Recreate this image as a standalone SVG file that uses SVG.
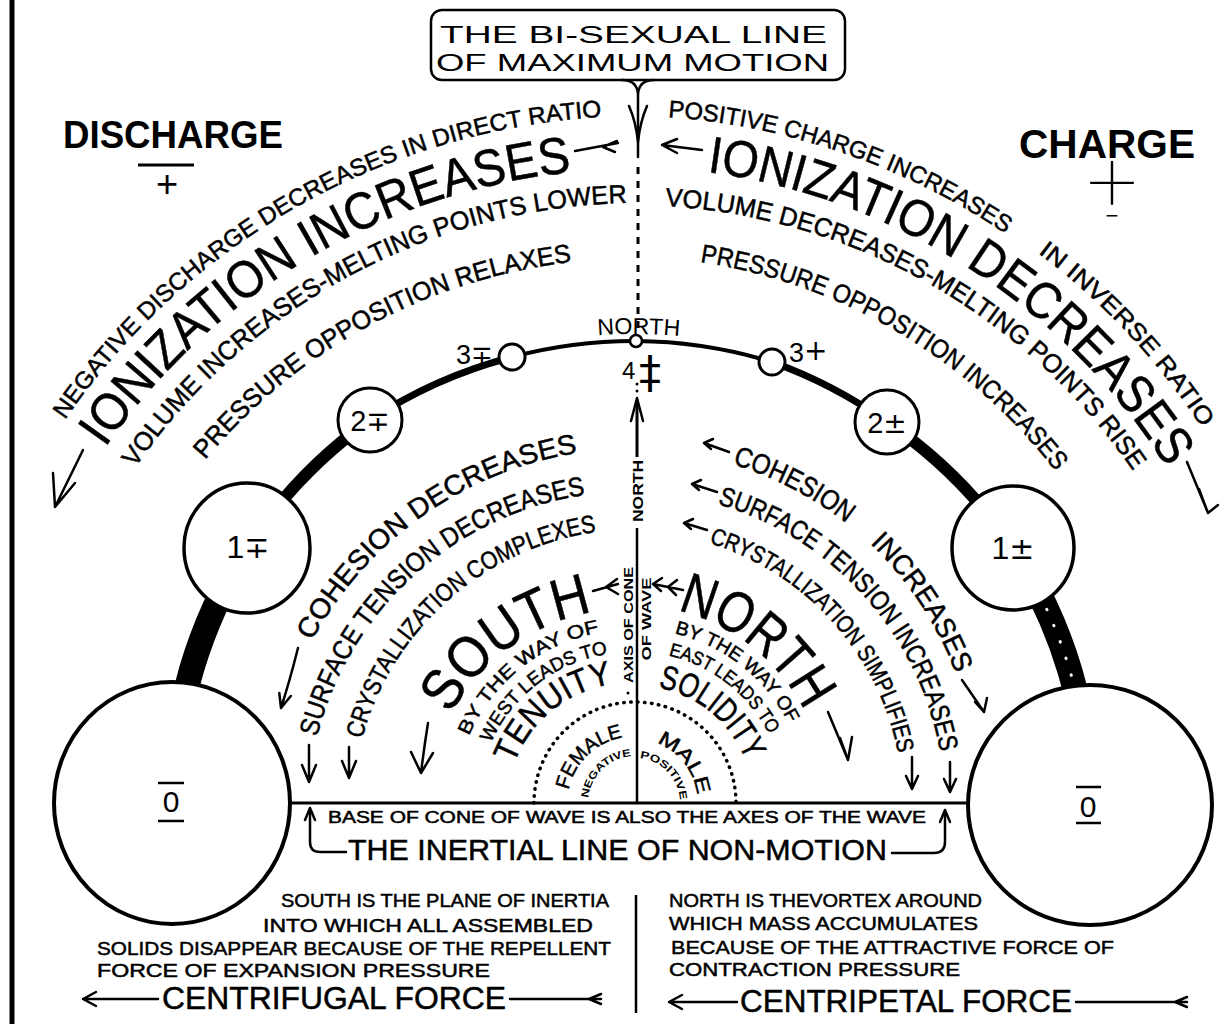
<svg xmlns="http://www.w3.org/2000/svg" width="1231" height="1024" viewBox="0 0 1231 1024">
<defs>
<style>
text{font-family:"Liberation Sans",Arial,sans-serif;fill:#000}
.b{font-weight:bold}
.sym{font-family:"DejaVu Sans","Liberation Sans",sans-serif}
.thin{font-family:Inter,"DejaVu Sans",sans-serif;font-weight:100}
.ln{fill:none;stroke:#000;stroke-width:2.5;stroke-linecap:round;stroke-linejoin:round}
.arc{fill:none;stroke:#000;stroke-linecap:butt}
.node{fill:#fff;stroke:#000}
.hv{stroke:#000;stroke-width:0.5}
</style>
<path id="p1" d="M65,420 A700,700 0 0 1 602,117"/>
<path id="p2" d="M105,448 A650,650 0 0 1 572,172"/>
<path id="p3" d="M135,468 A614,614 0 0 1 627,203"/>
<path id="p4" d="M205,460 A561,561 0 0 1 572,262"/>
<path id="p5" d="M668,117 A699,699 0 0 1 1006,234"/>
<path id="p6" d="M1038,253 A692,692 0 0 1 1202,428"/>
<path id="p7" d="M707,172 A645,645 0 0 1 1167,468"/>
<path id="p8" d="M665,206 A611,611 0 0 1 1133,471"/>
<path id="p9" d="M700,262 A554,554 0 0 1 1056,472"/>
<path id="p10" d="M312,641 A367,367 0 0 1 577,453"/>
<path id="p11" d="M317,737 A325,325 0 0 1 585,495"/>
<path id="p12" d="M362,739 A284,284 0 0 1 596.5,532"/>
<path id="p13a" d="M732.5,464 A362,362 0 0 1 846,523"/>
<path id="p13b" d="M870,543.5 A355,355 0 0 1 956,674"/>
<path id="p14" d="M717.5,504 A316,316 0 0 1 940,752"/>
<path id="p15" d="M709,543 A276,276 0 0 1 898,753"/>
<path id="p16" d="M450.6,714.6 A200,200 0 0 1 592.7,612.4"/>
<path id="p17" d="M469,736 A176,176 0 0 1 599.5,632.6"/>
<path id="p18" d="M491,743 A153,153 0 0 1 608.4,654"/>
<path id="p19" d="M514,764 A124,124 0 0 1 613,684"/>
<path id="p20" d="M568.5,790 A67,67 0 0 1 623,737.6"/>
<path id="p21" d="M588.3,798.1 A47,47 0 0 1 631.7,756.1"/>
<path id="p22" d="M656.5,743 A63,63 0 0 1 697,794.5"/>
<path id="p23" d="M639.7,758.2 A45,45 0 0 1 679.9,800.6"/>
<path id="p24" d="M677.4,610.4 A195,195 0 0 1 804.5,711"/>
<path id="p25" d="M674.4,633.5 A173.5,173.5 0 0 1 788.8,723.6"/>
<path id="p26" d="M668.4,655.5 A151,151 0 0 1 769.3,734.8"/>
<path id="p27" d="M658,687.6 A118,118 0 0 1 745.6,760.5"/>
<path id="pN" d="M597.7,335.4 A486,486 0 0 1 679.9,336.1"/>
</defs>

<rect x="0" y="0" width="1231" height="1024" fill="#fff"/>
<line x1="12" y1="0" x2="12" y2="1024" stroke="#000" stroke-width="5"/>

<!-- title box -->
<g id="title-box">
<rect x="431" y="10" width="414" height="70" rx="11" fill="#fff" stroke="#000" stroke-width="2.5"/>
<text x="440" y="43" font-size="24" textLength="387" lengthAdjust="spacingAndGlyphs">THE BI-SEXUAL LINE</text>
<text x="436" y="71" font-size="24" textLength="393" lengthAdjust="spacingAndGlyphs">OF MAXIMUM MOTION</text>
</g>

<!-- connectors -->
<g id="connectors">
<path class="ln" d="M622,80 Q638,80 638,96 M654,80 Q638,80 638,96 L638,157"/>
<path class="ln" d="M629,106 Q636,122 638,142 Q640,122 647,106"/>
<line x1="638" y1="167" x2="638" y2="336" stroke="#000" stroke-width="3" stroke-dasharray="7 7"/>

<path class="arc" stroke-width="25" d="M172,803 A476,476 0 0 1 247,548"/>
<path class="arc" stroke-width="12" d="M247,548 A476,476 0 0 1 370,420"/>
<path class="arc" stroke-width="7" d="M370,420 A476,476 0 0 1 512,357"/>
<path class="arc" stroke-width="4" d="M512,357 A476,476 0 0 1 636,341"/>
<path class="arc" stroke-width="4" d="M636,341 A476,476 0 0 1 772,362"/>
<path class="arc" stroke-width="7" d="M772,362 A476,476 0 0 1 887,422"/>
<path class="arc" stroke-width="12" d="M887,422 A476,476 0 0 1 1013,548"/>
<path class="arc" stroke-width="25" d="M1013,548 A476,476 0 0 1 1090,805"/>
<path d="M1013,548 A476,476 0 0 1 1090,805" fill="none" stroke="#fff" stroke-width="3" stroke-linecap="round" stroke-dasharray="0.5 17"/>

<line x1="290" y1="803" x2="968" y2="803" stroke="#000" stroke-width="3"/>

<!-- outer arc arrows -->
<path class="ln" d="M575,151 L618,143 M603,147 L617,141 M603,147 L615,152"/>
<path class="ln" d="M83,450 L55,507 M53,473 L55,507 L75,483"/>
<path class="ln" d="M702,150 L662,145 M677,139 L662,145 L677,153"/>
<path class="ln" d="M1187,462 L1208,513 M1199,489 L1208,513 L1218,505"/>

<!-- inner left arrows -->
<path class="ln" d="M298,648 Q290,680 281,708 M290.8,696 L281,708 L279.3,693"/>
<path class="ln" d="M309,745 L309,782 M302,765 L309,782 L316,765"/>
<path class="ln" d="M349,747 L349,778 M342,761 L349,778 L356,761"/>
<!-- inner right arrows -->
<path class="ln" d="M729,452 L704,443 M713,439 L704,443 L711,449"/>
<path class="ln" d="M717,492 L692,484 M701,480 L692,484 L699,490"/>
<path class="ln" d="M707,530 L684,523 M693,519 L684,523 L691,529"/>
<path class="ln" d="M962,680 L984,712 M975,702 L984,712 L987,698"/>
<path class="ln" d="M950,762 L950,792 M944,779 L950,792 L956,779"/>
<path class="ln" d="M912,757 L912,789 M906,776 L912,789 L918,776"/>

<!-- centre arrows -->
<path class="ln" d="M593,591 L618,584 M606,587 L617,579 M606,587 L618,594"/>
<path class="ln" d="M653,584 L683,590 M653,584 L662,578 M653,584 L661,591 M668,587 L677,580 M668,587 L676,595"/>
<path class="ln" d="M428,723 Q424,748 421,773 M411,752 L421,773 L433,753"/>
<path class="ln" d="M828,712 L848,760 M840,738 L848,760 L852,737"/>

<!-- axis -->
<line x1="637" y1="803" x2="637" y2="528" stroke="#000" stroke-width="2.5"/>
<line x1="637" y1="457" x2="637" y2="400" stroke="#000" stroke-width="3"/>
<path class="ln" d="M631,421 L637,398 L643,421"/>
<circle cx="637" cy="384" r="1.5"/>
<circle cx="637" cy="391" r="1.5"/>
<circle cx="628" cy="693" r="1.5"/>

<!-- dotted semicircle -->
<path d="M534,803 A101,101 0 0 1 736,803" fill="none" stroke="#000" stroke-width="3.5" stroke-dasharray="0.5 6.5" stroke-linecap="round"/>

<!-- base arrows -->
<path class="ln" d="M310,812 V842 Q310,852 320,852 H346"/>
<path class="ln" d="M305,820 L310,808 L315,820"/>
<path class="ln" d="M892,853 H934 Q945,853 945,842 V814"/>
<path class="ln" d="M940,822 L945,810 L950,822"/>

<!-- bottom -->
<line x1="636" y1="895" x2="636" y2="1013" stroke="#000" stroke-width="2.5"/>
<path class="ln" d="M83,999 L158,999 M96,992 L83,999 L96,1006"/>
<path class="ln" d="M510,999 L601,999 M589,999 L601,994 M589,999 L601,1004"/>
<path class="ln" d="M669,1002 L737,1002 M682,995 L669,1002 L682,1009"/>
<path class="ln" d="M1076,1002 L1187,1002 M1175,1002 L1187,997 M1175,1002 L1187,1007"/>
</g>

<!-- nodes -->
<g id="node-0-left">
<ellipse class="node" cx="172" cy="803" rx="118" ry="121" stroke-width="4"/>
<text x="171" y="812" font-size="30" text-anchor="middle">0</text>
<line x1="158" y1="783" x2="184" y2="783" stroke="#000" stroke-width="2.5"/>
<line x1="158" y1="821" x2="184" y2="821" stroke="#000" stroke-width="2.5"/>
</g>
<g id="node-1-minus">
<ellipse class="node" cx="247" cy="548" rx="63" ry="65" stroke-width="3.5"/>
<text x="248" y="558" font-size="32" text-anchor="middle" font-family="Liberation Serif">1<tspan class="sym" font-size="30">∓</tspan></text>
</g>
<g id="node-2-minus">
<circle class="node" cx="370" cy="420" r="32" stroke-width="3"/>
<text x="370" y="431" font-size="29" text-anchor="middle">2<tspan class="sym" font-size="28">∓</tspan></text>
</g>
<g id="node-3-minus">
<circle class="node" cx="512" cy="357" r="13" stroke-width="3"/>
<text x="456" y="364" font-size="27">3<tspan class="sym" font-size="26">∓</tspan></text>
</g>
<g id="node-north">
<circle class="node" cx="636" cy="341" r="6" stroke-width="2.5"/>
<text font-size="23"><textPath href="#pN" textLength="82" lengthAdjust="spacingAndGlyphs">NORTH</textPath></text>
<text x="622" y="379" font-size="24">4</text>
<text x="650" y="388" font-size="44" text-anchor="middle" class="sym">‡</text>
</g>
<g id="node-3-plus">
<circle class="node" cx="772" cy="362" r="13" stroke-width="3"/>
<text x="789" y="362" font-size="27">3<tspan class="sym" font-size="28" dy="-2">+</tspan></text>
</g>
<g id="node-2-plus">
<circle class="node" cx="887" cy="422" r="32" stroke-width="3"/>
<text x="887" y="433" font-size="29" text-anchor="middle">2<tspan class="sym" font-size="28">±</tspan></text>
</g>
<g id="node-1-plus">
<ellipse class="node" cx="1013" cy="548" rx="61" ry="62" stroke-width="3.5"/>
<text x="1013" y="559" font-size="32" text-anchor="middle" font-family="Liberation Serif">1<tspan class="sym" font-size="30">±</tspan></text>
</g>
<g id="node-0-right">
<ellipse class="node" cx="1090" cy="805" rx="122" ry="120" stroke-width="4"/>
<text x="1088" y="817" font-size="30" text-anchor="middle">0</text>
<line x1="1076" y1="787" x2="1101" y2="787" stroke="#000" stroke-width="2.5"/>
<line x1="1076" y1="823" x2="1101" y2="823" stroke="#000" stroke-width="2.5"/>
</g>

<!-- headings -->
<g id="discharge">
<text x="63" y="148" font-size="39" class="b" textLength="220" lengthAdjust="spacingAndGlyphs">DISCHARGE</text>
<line x1="138" y1="165" x2="194" y2="165" stroke="#000" stroke-width="3"/>
<text x="167" y="197" font-size="38" text-anchor="middle">+</text>
</g>
<g id="charge">
<text x="1019" y="158" font-size="41" class="b" textLength="176" lengthAdjust="spacingAndGlyphs">CHARGE</text>
<text x="1112" y="213" font-size="106" text-anchor="middle" class="thin">+</text>
<text x="1112" y="223" font-size="22" text-anchor="middle">−</text>
</g>

<!-- outer curved texts -->
<g id="outer-texts" class="hv">
<text font-size="24"><textPath href="#p1" textLength="638" lengthAdjust="spacingAndGlyphs">NEGATIVE DISCHARGE DECREASES IN DIRECT RATIO</textPath></text>
<text font-size="52"><textPath href="#p2" textLength="559" lengthAdjust="spacingAndGlyphs">IONIZATION INCREASES</textPath></text>
<text font-size="26"><textPath href="#p3" textLength="580" lengthAdjust="spacingAndGlyphs">VOLUME INCREASES-MELTING POINTS LOWER</textPath></text>
<text font-size="26"><textPath href="#p4" textLength="427" lengthAdjust="spacingAndGlyphs">PRESSURE OPPOSITION  RELAXES</textPath></text>
<text font-size="24"><textPath href="#p5" textLength="361" lengthAdjust="spacingAndGlyphs">POSITIVE CHARGE INCREASES</textPath></text>
<text font-size="24"><textPath href="#p6" textLength="241" lengthAdjust="spacingAndGlyphs">IN INVERSE RATIO</textPath></text>
<text font-size="52"><textPath href="#p7" textLength="565" lengthAdjust="spacingAndGlyphs">IONIZATION DECREASES</textPath></text>
<text font-size="26"><textPath href="#p8" textLength="557" lengthAdjust="spacingAndGlyphs">VOLUME DECREASES-MELTING POINTS RISE</textPath></text>
<text font-size="26"><textPath href="#p9" textLength="423" lengthAdjust="spacingAndGlyphs">PRESSURE OPPOSITION INCREASES</textPath></text>
</g>

<!-- inner curved texts -->
<g id="inner-texts" class="hv">
<text font-size="28"><textPath href="#p10" textLength="337" lengthAdjust="spacingAndGlyphs">COHESION DECREASES</textPath></text>
<text font-size="27"><textPath href="#p11" textLength="383" lengthAdjust="spacingAndGlyphs">SURFACE TENSION DECREASES</textPath></text>
<text font-size="25"><textPath href="#p12" textLength="331" lengthAdjust="spacingAndGlyphs">CRYSTALLIZATION COMPLEXES</textPath></text>
<text font-size="28"><textPath href="#p13a" textLength="129" lengthAdjust="spacingAndGlyphs">COHESION</textPath></text>
<text font-size="28"><textPath href="#p13b" textLength="157" lengthAdjust="spacingAndGlyphs">INCREASES</textPath></text>
<text font-size="27"><textPath href="#p14" textLength="351" lengthAdjust="spacingAndGlyphs">SURFACE TENSION INCREASES</textPath></text>
<text font-size="24"><textPath href="#p15" textLength="297" lengthAdjust="spacingAndGlyphs">CRYSTALLIZATION SIMPLIFIES</textPath></text>
</g>

<!-- centre -->
<g id="south" class="hv">
<text font-size="58"><textPath href="#p16" textLength="181" lengthAdjust="spacingAndGlyphs">SOUTH</textPath></text>
<text font-size="19"><textPath href="#p17" textLength="173" lengthAdjust="spacingAndGlyphs">BY THE WAY OF</textPath></text>
<text font-size="19"><textPath href="#p18" textLength="153" lengthAdjust="spacingAndGlyphs">WEST LEADS TO</textPath></text>
<text font-size="34"><textPath href="#p19" textLength="133" lengthAdjust="spacingAndGlyphs">TENUITY</textPath></text>
</g>
<g id="north" class="hv">
<text font-size="58"><textPath href="#p24" textLength="167" lengthAdjust="spacingAndGlyphs">NORTH</textPath></text>
<text font-size="19"><textPath href="#p25" textLength="150" lengthAdjust="spacingAndGlyphs">BY THE WAY OF</textPath></text>
<text font-size="19"><textPath href="#p26" textLength="132" lengthAdjust="spacingAndGlyphs">EAST LEADS TO</textPath></text>
<text font-size="34"><textPath href="#p27" textLength="119" lengthAdjust="spacingAndGlyphs">SOLIDITY</textPath></text>
</g>
<g id="female-male">
<text font-size="20" class="hv"><textPath href="#p20" textLength="80" lengthAdjust="spacingAndGlyphs">FEMALE</textPath></text>
<text font-size="10.5" class="b"><textPath href="#p21" textLength="65" lengthAdjust="spacingAndGlyphs">NEGATIVE</textPath></text>
<text font-size="20" class="hv"><textPath href="#p22" textLength="69" lengthAdjust="spacingAndGlyphs">MALE</textPath></text>
<text font-size="10.5" class="b"><textPath href="#p23" textLength="63" lengthAdjust="spacingAndGlyphs">POSITIVE</textPath></text>
</g>
<g id="axis-labels">
<text transform="translate(643,491) rotate(-90)" font-size="15" class="b" text-anchor="middle" textLength="62" lengthAdjust="spacingAndGlyphs">NORTH</text>
<text transform="translate(633,625) rotate(-90)" font-size="13" class="b" text-anchor="middle" textLength="116" lengthAdjust="spacingAndGlyphs">AXIS OF CONE</text>
<text transform="translate(651,619) rotate(-90)" font-size="13" class="b" text-anchor="middle" textLength="83" lengthAdjust="spacingAndGlyphs">OF WAVE</text>
</g>

<!-- base -->
<g id="base-texts" class="hv">
<text x="328" y="823" font-size="16" textLength="598" lengthAdjust="spacingAndGlyphs">BASE OF CONE OF WAVE  IS ALSO THE AXES OF THE WAVE</text>
<text x="348" y="860" font-size="30" textLength="539" lengthAdjust="spacingAndGlyphs">THE INERTIAL LINE OF NON-MOTION</text>
</g>
<g id="south-note" class="hv">
<text x="281" y="907" font-size="19" textLength="328" lengthAdjust="spacingAndGlyphs">SOUTH IS THE PLANE OF INERTIA</text>
<text x="263" y="932" font-size="19" textLength="330" lengthAdjust="spacingAndGlyphs">INTO WHICH ALL ASSEMBLED</text>
<text x="97" y="955" font-size="19" textLength="514" lengthAdjust="spacingAndGlyphs">SOLIDS DISAPPEAR BECAUSE OF THE REPELLENT</text>
<text x="97" y="977" font-size="19" textLength="393" lengthAdjust="spacingAndGlyphs">FORCE OF EXPANSION PRESSURE</text>
<text x="162" y="1009" font-size="31" textLength="344" lengthAdjust="spacingAndGlyphs">CENTRIFUGAL FORCE</text>
</g>
<g id="north-note" class="hv">
<text x="669" y="907" font-size="19" textLength="313" lengthAdjust="spacingAndGlyphs">NORTH IS THEVORTEX AROUND</text>
<text x="669" y="930" font-size="19" textLength="309" lengthAdjust="spacingAndGlyphs">WHICH MASS ACCUMULATES</text>
<text x="671" y="954" font-size="19" textLength="443" lengthAdjust="spacingAndGlyphs">BECAUSE OF THE ATTRACTIVE FORCE OF</text>
<text x="669" y="976" font-size="19" textLength="291" lengthAdjust="spacingAndGlyphs">CONTRACTION PRESSURE</text>
<text x="740" y="1012" font-size="31" textLength="332" lengthAdjust="spacingAndGlyphs">CENTRIPETAL FORCE</text>
</g>
</svg>
